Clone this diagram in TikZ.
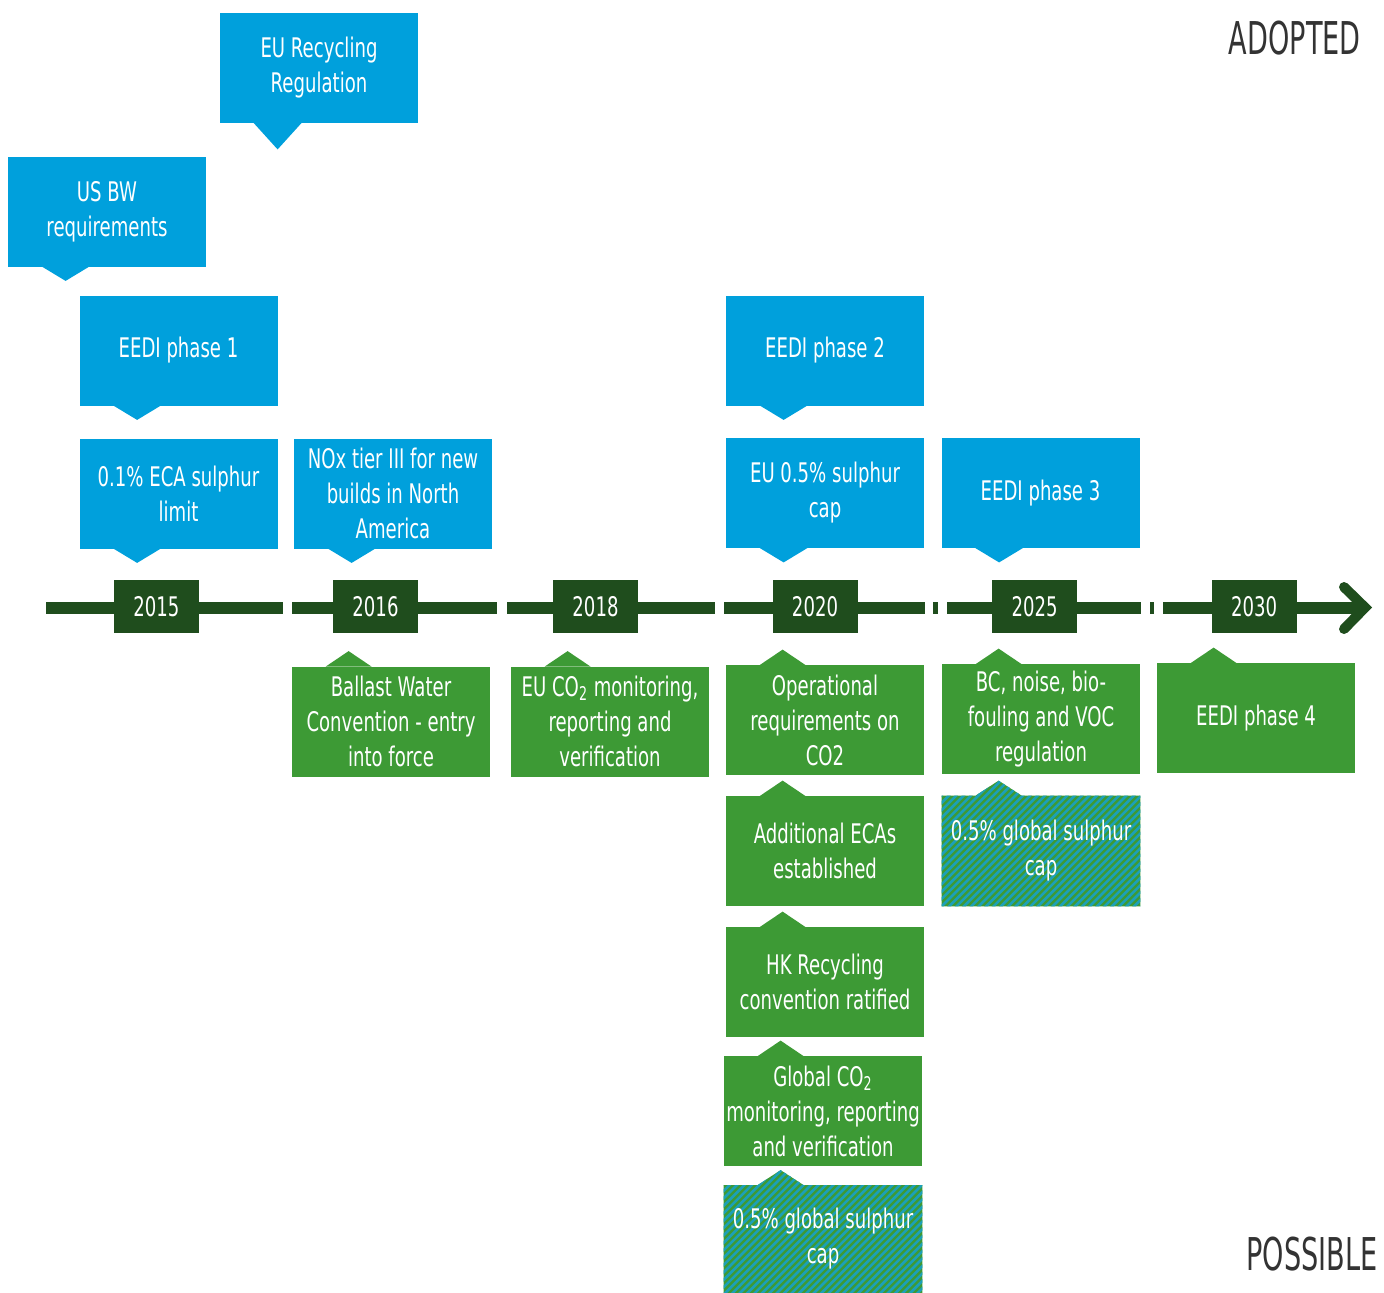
\documentclass[tikz,border=0pt]{standalone}
\usepackage{fontspec}
\setmainfont{DejaVu Sans}[FakeStretch=0.67]
\newfontfamily\hdrfont{DejaVu Sans}[FakeStretch=0.6]
\usetikzlibrary{calc,backgrounds}
\definecolor{bluec}{HTML}{00A0DC}
\definecolor{greenc}{HTML}{3D9A35}
\definecolor{darkg}{HTML}{1F4D1D}
\definecolor{hatchc}{HTML}{1BA0B8}
\definecolor{hdrc}{HTML}{333333}
\begin{document}
\begin{tikzpicture}[x=0.5pt,y=-0.5pt,
  box/.style={rectangle, minimum width=99pt, minimum height=55pt, inner sep=0pt, align=center, text=white, font=\fontsize{13.5pt}{17.5pt}\selectfont},
  bluebox/.style={box, fill=bluec},
  greenbox/.style={box, fill=greenc},
  hatchfill/.style={fill=greenc, path picture={
      \foreach \c in {1700,1707.4,...,2240}
        \draw[hatchc, line width=1.3pt] (\c-1300,1300) -- (\c-500,500);}},
  hatchbox/.style={box},
  yearbox/.style={rectangle, fill=darkg, minimum width=42.5pt, minimum height=26.5pt, inner sep=0pt, text=white, font=\fontsize{13.5pt}{17.5pt}\selectfont},
  tl/.style={draw=darkg, line width=6pt},
  hdr/.style={text=hdrc, inner sep=0pt, font=\hdrfont\fontsize{22.6pt}{26pt}\selectfont}
]
\useasboundingbox (0,0) rectangle (1384,1292);

% timeline
\coordinate (s1a) at (46,608);  \coordinate (s1b) at (283,608);
\coordinate (s2a) at (292,608); \coordinate (s2b) at (497,608);
\coordinate (s3a) at (507,608); \coordinate (s3b) at (715,608);
\coordinate (s4a) at (724,608); \coordinate (s4b) at (925,608);
\coordinate (t1a) at (933,608); \coordinate (t1b) at (938,608);
\coordinate (s5a) at (947,608); \coordinate (s5b) at (1141,608);
\coordinate (t2a) at (1150,608); \coordinate (t2b) at (1154,608);
\coordinate (s6a) at (1163,608); \coordinate (s6b) at (1362,608);
\foreach \a/\b in {s1a/s1b,s2a/s2b,s3a/s3b,s4a/s4b,t1a/t1b,s5a/s5b,t2a/t2b,s6a/s6b}
  \draw[tl] (\a) -- (\b);
\coordinate (ahu) at (1344,587);
\coordinate (aht) at (1365,607.5);
\coordinate (ahd) at (1344,629);
\draw[darkg, line width=5pt, line cap=round, line join=miter] (ahu) -- (aht) -- (ahd);

% years
\node[yearbox] (y15) at (156.5,606.5) {2015};
\node[yearbox] (y16) at (375.5,606.5) {2016};
\node[yearbox] (y18) at (595.5,606.5) {2018};
\node[yearbox] (y20) at (815,606.5) {2020};
\node[yearbox] (y25) at (1034.5,606.5) {2025};
\node[yearbox] (y30) at (1254,606.5) {2030};

% adopted (blue)
\node[bluebox] (eurec) at (319,68) {EU Recycling\\Regulation};
\node[bluebox] (usbw) at (107,211.5) {US BW\\requirements};
\node[bluebox] (eedi1) at (178.5,350.5) {EEDI phase 1};
\node[bluebox] (eca) at (178.5,493.5) {0.1\% ECA sulphur\\limit};
\node[bluebox] (nox) at (393,493.5) {NOx tier III for new\\builds in North\\America};
\node[bluebox] (eedi2) at (825,350.5) {EEDI phase 2};
\node[bluebox] (eu05) at (825,493) {EU 0.5\% sulphur\\cap};
\node[bluebox] (eedi3) at (1040.5,493) {EEDI phase 3};
\fill[bluec] ($(eurec.south west)+(34,-0.5)$) -- ++(24,26.5) -- ++(24,-26.5) -- cycle;
\foreach \n in {usbw,eedi1,eca,nox,eedi2,eu05,eedi3}
  \fill[bluec] ($(\n.south west)+(34,-0.5)$) -- ++(24,14.5) -- ++(24,-14.5) -- cycle;

% possible (green)
\node[greenbox] (ballast) at (391,721.5) {Ballast Water\\Convention - entry\\into force};
\node[greenbox] (euco2) at (610,721.5) {EU CO\textsubscript{2} monitoring,\\reporting and\\verification};
\node[greenbox] (oper) at (825,720) {Operational\\requirements on\\CO2};
\node[greenbox] (addeca) at (825,851) {Additional ECAs\\established};
\node[greenbox] (hk) at (825,982) {HK Recycling\\convention ratified};
\node[greenbox] (globco2) at (823,1111) {Global CO\textsubscript{2}\\monitoring, reporting\\and verification};
\node[hatchbox, minimum height=53.5pt] (globsa) at (823,1239) {0.5\% global sulphur\\cap};
\node[greenbox] (bc) at (1041,719) {BC, noise, bio-\\fouling and VOC\\regulation};
\node[hatchbox] (globsb) at (1041,851) {0.5\% global sulphur\\cap};
\node[greenbox] (eedi4) at (1256,718) {EEDI phase 4};
\foreach \n in {ballast,euco2,oper,addeca,hk,globco2,bc,eedi4}
  \fill[greenc] ($(\n.north west)+(34,0.5)$) -- ++(23,-15.5) -- ++(23,15.5) -- cycle;
\begin{pgfonlayer}{background}
\foreach \n in {globsa,globsb}
  \path[hatchfill] (\n.north west) -- ($(\n.north west)+(34,0)$) -- ++(23,-15) -- ++(23,15)
    -- (\n.north east) -- (\n.south east) -- (\n.south west) -- cycle;
\end{pgfonlayer}

% headers
\node[hdr, anchor=east] (adopted) at (1361,38.5) {ADOPTED};
\node[hdr, anchor=east] (possible) at (1378,1254) {POSSIBLE};
\end{tikzpicture}
\end{document}
